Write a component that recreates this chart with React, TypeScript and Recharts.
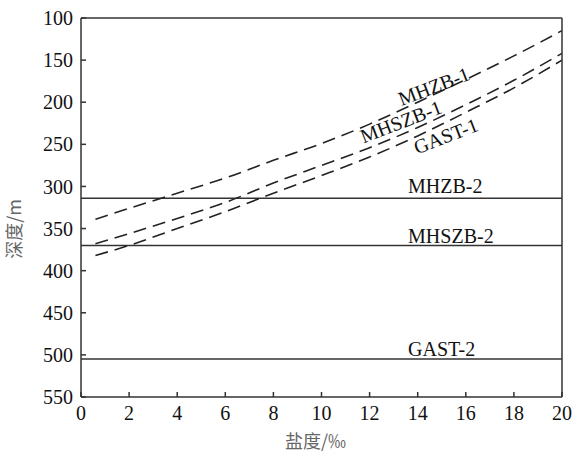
import { Line, LineChart, ReferenceDot, ReferenceLine, XAxis, YAxis } from "recharts"

// salinity (‰) vs depth (m)
const salinity = [0.6, 2, 4, 6, 8, 10, 12, 14, 16, 18, 20]
const mhzb1 = [339, 326, 308, 290, 269, 249, 226, 200, 173, 145, 115]
const mhszb1 = [368, 356, 338, 319, 296, 275, 254, 230, 203, 174, 142]
const gast1 = [382, 370, 350, 330, 308, 287, 265, 240, 212, 183, 150]

const levelNames = ["MHZB-2", "MHSZB-2", "GAST-2"]
const levelDepths = [314, 370, 505]
const levelLabelX = [13.6, 13.6, 13.6]
const levelLabelY = [299, 359, 493]

const curveNames = ["MHZB-1", "MHSZB-1", "GAST-1"]
const curveLabelX = [14.67, 13.3, 15.17]
const curveLabelY = [181, 223, 240]

const xTicks = [0, 2, 4, 6, 8, 10, 12, 14, 16, 18, 20]
const yTicks = [100, 150, 200, 250, 300, 350, 400, 450, 500, 550]

const data = salinity.map((s, i) => ({
  s,
  mhzb1: mhzb1[i],
  mhszb1: mhszb1[i],
  gast1: gast1[i],
}))

const serif = "'Liberation Serif', 'Times New Roman', serif"
const cjk = "'Noto Sans CJK SC', 'Noto Sans', sans-serif"
const axisColor = "#333"
const serifText = { fontFamily: serif, fontSize: 20, fill: "#111" }

function XTick(props: any) {
  return (
    <text x={props.x} y={props.y} dy="0.71em" textAnchor="middle" style={serifText}>
      {props.payload.value}
    </text>
  )
}

function YTick(props: any) {
  return (
    <text x={props.x} y={props.y} dy="0.355em" textAnchor="end" style={serifText}>
      {props.payload.value}
    </text>
  )
}

const textLabel = (text: string, angle: number, anchor: "start" | "middle") => (props: any) => {
  const vb = props.viewBox
  const cx = vb.x + vb.width / 2
  const cy = vb.y + vb.height / 2
  return (
    <text
      x={cx}
      y={cy}
      textAnchor={anchor}
      dominantBaseline="central"
      transform={`rotate(${angle} ${cx} ${cy})`}
      style={serifText}
    >
      {text}
    </text>
  )
}

const YTitle = () => (
  <text
    x={13}
    y={229}
    textAnchor="middle"
    dominantBaseline="central"
    transform="rotate(-90 13 229)"
    style={{ fontFamily: cjk, fontSize: 18, fill: "#666" }}
  >
    深度/m
  </text>
)

const XTitle = (props: any) => {
  const vb = props.viewBox
  return (
    <text
      x={vb.x + vb.width / 2 - 6}
      y={vb.y + vb.height - 6}
      textAnchor="middle"
      style={{ fontFamily: cjk, fontSize: 18, fill: "#666" }}
    >
      盐度/‰
    </text>
  )
}

export default function App() {
  return (
    <div style={{ position: "absolute", left: 0, top: 0, background: "#fff", fontFamily: serif }}>
      <LineChart width={572} height={454} data={data} margin={{ top: 0, right: 0, bottom: 0, left: 0 }}>
        <XAxis
          dataKey="s"
          type="number"
          domain={[0, 20]}
          ticks={xTicks}
          height={57}
          tickSize={-5}
          tickMargin={14}
          tick={XTick}
          axisLine={{ stroke: axisColor, strokeWidth: 1.5 }}
          tickLine={{ stroke: axisColor, strokeWidth: 1.5 }}
          label={<XTitle />}
        />
        <XAxis
          xAxisId="t"
          orientation="top"
          dataKey="s"
          type="number"
          domain={[0, 20]}
          ticks={xTicks}
          height={18}
          tickSize={-5}
          tick={false}
          axisLine={{ stroke: axisColor, strokeWidth: 1.5 }}
          tickLine={{ stroke: axisColor, strokeWidth: 1.5 }}
        />
        <YAxis
          type="number"
          domain={[100, 550]}
          reversed
          ticks={yTicks}
          width={81}
          tickSize={-5}
          tickMargin={13}
          tick={YTick}
          axisLine={{ stroke: axisColor, strokeWidth: 1.5 }}
          tickLine={{ stroke: axisColor, strokeWidth: 1.5 }}
          label={<YTitle />}
        />
        <YAxis
          yAxisId="r"
          orientation="right"
          type="number"
          domain={[100, 550]}
          reversed
          ticks={yTicks}
          width={10}
          tickSize={-5}
          tick={false}
          axisLine={{ stroke: axisColor, strokeWidth: 1.5 }}
          tickLine={{ stroke: axisColor, strokeWidth: 1.5 }}
        />

        {levelDepths.map((d, i) => (
          <ReferenceLine key={levelNames[i]} y={d} stroke="#333" strokeWidth={1.5} />
        ))}

        <Line dataKey="mhzb1" type="monotone" stroke="#222" strokeWidth={1.6} strokeDasharray="13 7" dot={false} isAnimationActive={false} />
        <Line dataKey="mhszb1" type="monotone" stroke="#222" strokeWidth={1.6} strokeDasharray="13 7" dot={false} isAnimationActive={false} />
        <Line dataKey="gast1" type="monotone" stroke="#222" strokeWidth={1.6} strokeDasharray="13 7" dot={false} isAnimationActive={false} />

        {curveNames.map((name, i) => (
          <ReferenceDot
            key={name}
            x={curveLabelX[i]}
            y={curveLabelY[i]}
            r={0}
            fill="none"
            stroke="none"
            label={textLabel(name, -21, "middle")}
          />
        ))}
        {levelNames.map((name, i) => (
          <ReferenceDot
            key={name + "-label"}
            x={levelLabelX[i]}
            y={levelLabelY[i]}
            r={0}
            fill="none"
            stroke="none"
            label={textLabel(name, 0, "start")}
          />
        ))}
      </LineChart>
    </div>
  )
}
